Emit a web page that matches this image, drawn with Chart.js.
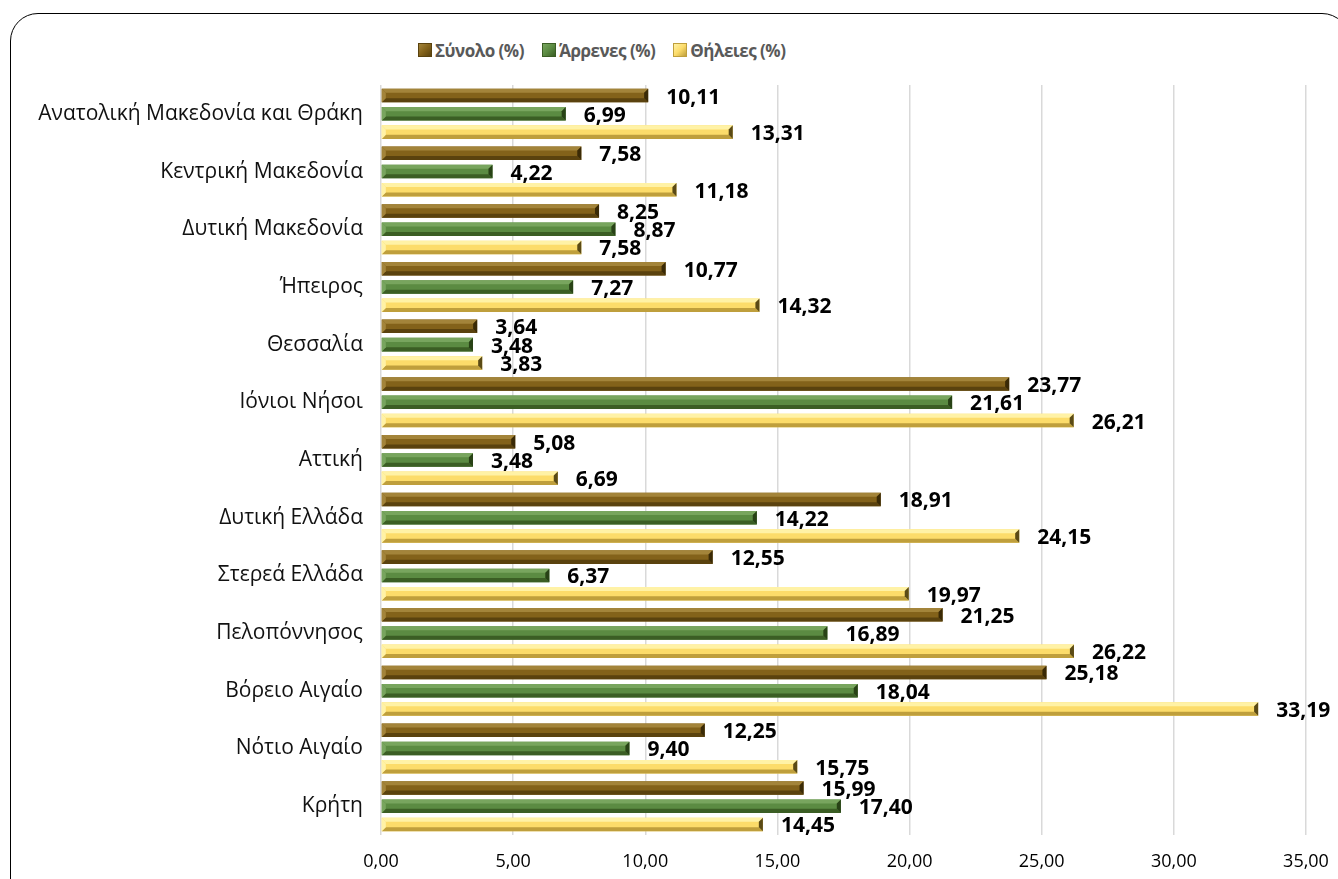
<!DOCTYPE html>
<html>
<head>
<meta charset="utf-8">
<script src="https://cdn.jsdelivr.net/npm/chart.js@4/dist/chart.umd.min.js"></script>
<style>
  html, body { margin: 0; padding: 0; background: #fff; }
  #wrap { position: relative; width: 1338px; height: 879px; overflow: hidden; }
  #frame {
    position: absolute; left: 10px; top: 13px; width: 1340px; height: 900px;
    border: 1.5px solid #000; border-radius: 28px; box-sizing: border-box;
  }
  #legend {
    position: absolute; top: 38px; left: 418px; height: 24px;
    display: flex; align-items: center; gap: 18px;
    font: bold 17px "Open Sans", sans-serif; color: #595959; letter-spacing: -0.5px;
  }
  #legend span.item { display: flex; align-items: center; }
  #legend span.box { width: 12px; height: 12px; margin-right: 3px; display: inline-block; }
  canvas { position: absolute; left: 0; top: 0; }
</style>
</head>
<body>
<div id="wrap">
  <div id="frame"></div>
  <div id="legend"></div>
  <canvas id="chart" width="1338" height="879"></canvas>
</div>
<script>
// Regions (categories, top to bottom)
const regions = [
    'Ανατολική Μακεδονία και Θράκη',
    'Κεντρική Μακεδονία',
    'Δυτική Μακεδονία',
    'Ήπειρος',
    'Θεσσαλία',
    'Ιόνιοι Νήσοι',
    'Αττική',
    'Δυτική Ελλάδα',
    'Στερεά Ελλάδα',
    'Πελοπόννησος',
    'Βόρειο Αιγαίο',
    'Νότιο Αιγαίο',
    'Κρήτη'
];

// Series values (%)
const totalValues  = [10.11, 7.58, 8.25, 10.77, 3.64, 23.77, 5.08, 18.91, 12.55, 21.25, 25.18, 12.25, 15.99];
const maleValues   = [6.99, 4.22, 8.87, 7.27, 3.48, 21.61, 3.48, 14.22, 6.37, 16.89, 18.04, 9.40, 17.40];
const femaleValues = [13.31, 11.18, 7.58, 14.32, 3.83, 26.21, 6.69, 24.15, 19.97, 26.22, 33.19, 15.75, 14.45];

const seriesNames = ['Σύνολο (%)', 'Άρρενες (%)', 'Θήλειες (%)'];

// x axis ticks 0..35 step 5
const xTicks = [0, 5, 10, 15, 20, 25, 30, 35];

// Bar colours: main, light (top bevel), dark (bottom bevel), end cap
const barStyles = [
    { main: '#83621a', light: '#a3843a', dark: '#5a420e', cap: '#3a2a06' },
    { main: '#5b8b42', light: '#78a55e', dark: '#3b5e24', cap: '#284216' },
    { main: '#fcdc6a', light: '#fff2a6', dark: '#bf9f3c', cap: '#5a4a16' }
];

function fmt(v) {
    return v.toFixed(2).replace('.', ',');
}

// Legend built from series names
const legendEl = document.getElementById('legend');
seriesNames.forEach((name, i) => {
    const s = barStyles[i];
    const item = document.createElement('span');
    item.className = 'item';
    const box = document.createElement('span');
    box.className = 'box';
    box.style.background = `linear-gradient(135deg, ${s.light} 0%, ${s.main} 50%, ${s.dark} 100%)`;
    box.style.border = `1px solid ${s.dark}`;
    item.appendChild(box);
    item.appendChild(document.createTextNode(name));
    legendEl.appendChild(item);
});

// Bevel look drawn over each bar using the bar element geometry
const bevelPlugin = {
    id: 'bevel',
    afterDatasetDraw(chart, args) {
        const ctx = chart.ctx;
        const st = barStyles[args.index];
        args.meta.data.forEach(el => {
            const p = el.getProps(['x', 'y', 'base', 'height'], true);
            const top = p.y - p.height / 2;
            const bottom = p.y + p.height / 2;
            const left = Math.min(p.base, p.x);
            const right = Math.max(p.base, p.x);
            const b = p.height * 0.3;
            ctx.save();
            ctx.fillStyle = st.light;
            ctx.beginPath();
            ctx.moveTo(left, top); ctx.lineTo(right, top);
            ctx.lineTo(right - b, top + b); ctx.lineTo(left + b, top + b);
            ctx.closePath(); ctx.fill();
            ctx.fillStyle = st.dark;
            ctx.beginPath();
            ctx.moveTo(left, bottom); ctx.lineTo(right, bottom);
            ctx.lineTo(right - b, bottom - b); ctx.lineTo(left + b, bottom - b);
            ctx.closePath(); ctx.fill();
            ctx.fillStyle = st.cap;
            ctx.beginPath();
            ctx.moveTo(right, top); ctx.lineTo(right, bottom);
            ctx.lineTo(right - b, bottom - b); ctx.lineTo(right - b, top + b);
            ctx.closePath(); ctx.fill();
            ctx.fillStyle = st.light;
            ctx.beginPath();
            ctx.moveTo(left, top); ctx.lineTo(left, bottom);
            ctx.lineTo(left + b, bottom - b); ctx.lineTo(left + b, top + b);
            ctx.closePath(); ctx.fill();
            ctx.restore();
        });
    }
};

// Value labels at bar ends
const valueLabels = {
    id: 'valueLabels',
    afterDatasetsDraw(chart) {
        const ctx = chart.ctx;
        ctx.save();
        ctx.font = 'bold 21px "Open Sans", sans-serif';
        ctx.fillStyle = '#000';
        ctx.textAlign = 'left';
        ctx.textBaseline = 'middle';
        chart.data.datasets.forEach((ds, di) => {
            const meta = chart.getDatasetMeta(di);
            meta.data.forEach((el, i) => {
                ctx.fillText(fmt(ds.data[i]), el.x + 18, el.y + 2);
            });
        });
        ctx.restore();
    }
};

new Chart(document.getElementById('chart').getContext('2d'), {
    type: 'bar',
    data: {
        labels: regions,
        datasets: [totalValues, maleValues, femaleValues].map((vals, i) => ({
            label: seriesNames[i],
            data: vals,
            backgroundColor: barStyles[i].main,
            borderWidth: 0,
            barPercentage: 0.74,
            categoryPercentage: 0.95
        }))
    },
    options: {
        indexAxis: 'y',
        responsive: false,
        animation: false,
        layout: { padding: { top: 85, right: 32, left: 0, bottom: 0 } },
        plugins: {
            legend: { display: false },
            tooltip: { enabled: false }
        },
        scales: {
            x: {
                min: 0,
                max: 35,
                afterBuildTicks: scale => { scale.ticks = xTicks.map(v => ({ value: v })); },
                afterFit: scale => {
                    scale.height = 44;
                    scale.paddingLeft = 0;
                    scale.paddingRight = 0;
                },
                grid: { color: '#d9d9d9', lineWidth: 1.5, drawTicks: false },
                border: { display: false },
                ticks: {
                    padding: 16,
                    color: '#000',
                    font: { family: '"Open Sans", sans-serif', size: 18 },
                    callback: v => fmt(v)
                }
            },
            y: {
                afterFit: scale => { scale.width = 381; },
                grid: { display: false, drawTicks: false },
                border: { display: false },
                ticks: {
                    padding: 18,
                    color: '#111',
                    font: { family: '"Open Sans", sans-serif', size: 21 }
                }
            }
        }
    },
    plugins: [bevelPlugin, valueLabels]
});
</script>
</body>
</html>
